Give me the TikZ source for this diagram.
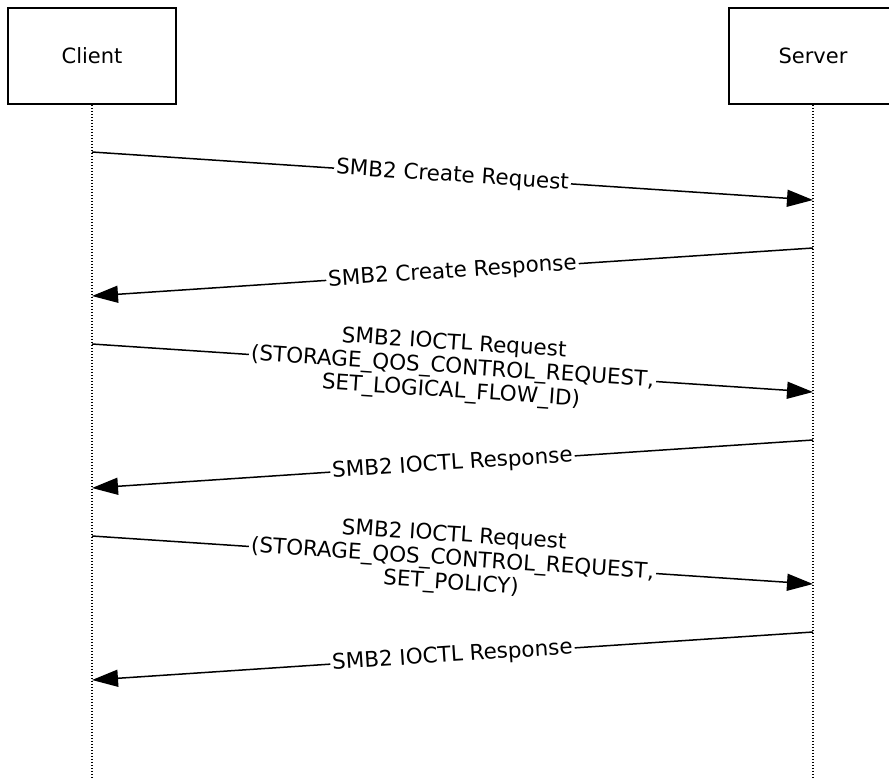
\documentclass[tikz,border=0pt]{standalone}
\usepackage{fontspec}
\setmainfont{DejaVu Sans}
\usetikzlibrary{arrows.meta}
\begin{document}
\begin{tikzpicture}[
    x=1pt, y=-1pt,
    actor/.style={rectangle, draw, line width=1.5pt, minimum width=168pt, minimum height=96pt, font=\fontsize{21}{24}\selectfont},
    lifeline/.style={dash pattern=on 1.5pt off 1.5pt, line width=1.3pt},
    msg/.style={-{Triangle[length=26pt,width=17pt]}, line width=1.5pt},
    lbl/.style={fill=white, inner sep=2pt, sloped, align=center, font=\fontsize{21.5}{24}\selectfont}
]
\clip (0,0) rectangle (889,777);

% Participants
\node[actor] (client) at (92,56) {Client};
\node[actor] (server) at (813,56) {Server};

% Lifelines
\coordinate (clientend) at (92,777);
\coordinate (serverend) at (813,777);
\draw[lifeline] (client) -- (clientend);
\draw[lifeline] (server) -- (serverend);

% Message end points
\coordinate (c1) at (92,152);  \coordinate (s1) at (813,200);
\coordinate (s2) at (813,248); \coordinate (c2) at (92,296);
\coordinate (c3) at (92,344);  \coordinate (s3) at (813,392);
\coordinate (s4) at (813,440); \coordinate (c4) at (92,488);
\coordinate (c5) at (92,536);  \coordinate (s5) at (813,584);
\coordinate (s6) at (813,632); \coordinate (c6) at (92,680);

% Messages
\draw[msg] (c1) -- node[lbl] {SMB2 Create Request} (s1);
\draw[msg] (s2) -- node[lbl] {SMB2 Create Response} (c2);
\draw[msg] (c3) -- node[lbl] {SMB2 IOCTL Request\\(STORAGE\_QOS\_CONTROL\_REQUEST,\\SET\_LOGICAL\_FLOW\_ID)} (s3);
\draw[msg] (s4) -- node[lbl] {SMB2 IOCTL Response} (c4);
\draw[msg] (c5) -- node[lbl] {SMB2 IOCTL Request\\(STORAGE\_QOS\_CONTROL\_REQUEST,\\SET\_POLICY)} (s5);
\draw[msg] (s6) -- node[lbl] {SMB2 IOCTL Response} (c6);

\end{tikzpicture}
\end{document}
